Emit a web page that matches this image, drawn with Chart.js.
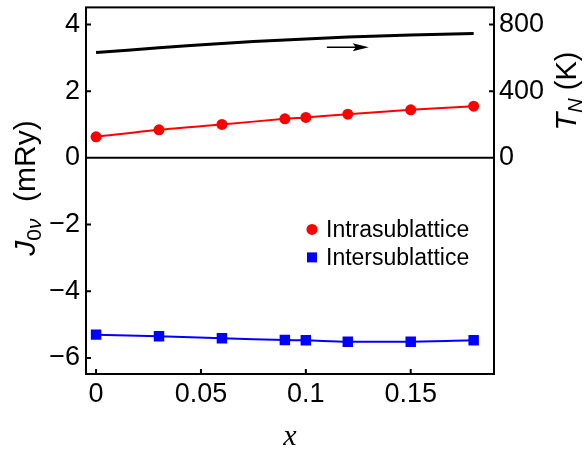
<!DOCTYPE html>
<html>
<head>
<meta charset="utf-8">
<script src="https://cdn.jsdelivr.net/npm/chart.js@4.4.1/dist/chart.umd.min.js"></script>
<style>
  html, body { margin: 0; padding: 0; background: #fff; }
  #wrap { width: 586px; height: 452px; position: relative; }
</style>
</head>
<body>
<div id="wrap"><canvas id="exchangeChart"></canvas></div>
<script>
// composition x and the two exchange sums (mRy), plus the Neel temperature (K)
const xValues = [0, 0.03, 0.06, 0.09, 0.1, 0.12, 0.15, 0.18];
const intraValues = [0.63, 0.84, 1.00, 1.17, 1.21, 1.31, 1.44, 1.55];
const interValues = [-5.30, -5.35, -5.41, -5.46, -5.47, -5.51, -5.51, -5.47];
const neelValues = [631, 660, 686, 707, 713, 724, 737, 746];

const xTicks = [0, 0.05, 0.1, 0.15];
const jTicks = [-6, -4, -2, 0, 2, 4];
const tnTicks = [0, 400, 800];
const seriesNames = ['Intrasublattice', 'Intersublattice'];

const SANS = '"Liberation Sans", Arial, Helvetica, sans-serif';
const SERIF = '"Liberation Serif", "Times New Roman", serif';

Chart.defaults.color = '#000';
Chart.defaults.font.family = SANS;

const toPoints = vals => xValues.map((x, i) => ({ x: x, y: vals[i] }));
const minus = v => (v < 0 ? '\u2212' + Math.abs(v) : String(v));

function drawRuns(ctx, runs, cx, baseY) {
  let w = 0;
  runs.forEach(r => { ctx.font = r[1]; w += ctx.measureText(r[0]).width; });
  let x = cx - w / 2;
  ctx.textAlign = 'left';
  ctx.textBaseline = 'alphabetic';
  runs.forEach(r => {
    ctx.font = r[1];
    ctx.fillText(r[0], x, baseY + r[2]);
    x += ctx.measureText(r[0]).width;
  });
}

// frame, inward ticks, zero line, arrow, legend and axis titles
const framePlugin = {
  id: 'frame',
  afterDatasetsDraw(chart) {
    const { ctx, chartArea: a, scales } = chart;
    const xs = scales.x, ys = scales.y, ts = scales.y2;
    ctx.save();
    ctx.strokeStyle = '#000';
    ctx.lineWidth = 2;
    ctx.strokeRect(a.left, a.top, a.right - a.left, a.bottom - a.top);

    ctx.beginPath();
    const y0 = ys.getPixelForValue(0);
    ctx.moveTo(a.left, y0); ctx.lineTo(a.right, y0);
    jTicks.forEach(v => {
      const y = ys.getPixelForValue(v);
      ctx.moveTo(a.left, y); ctx.lineTo(a.left + 5, y);
    });
    tnTicks.forEach(v => {
      const y = ts.getPixelForValue(v);
      ctx.moveTo(a.right, y); ctx.lineTo(a.right - 5, y);
    });
    xTicks.forEach(v => {
      const x = xs.getPixelForValue(v);
      ctx.moveTo(x, a.bottom); ctx.lineTo(x, a.bottom - 5);
    });
    ctx.stroke();

    // arrow towards the T_N axis
    const ax0 = xs.getPixelForValue(0.11), ax1 = xs.getPixelForValue(0.13);
    const ay = ts.getPixelForValue(663);
    ctx.lineWidth = 1.5;
    ctx.beginPath();
    ctx.moveTo(ax0, ay); ctx.lineTo(ax1 - 10, ay);
    ctx.stroke();
    ctx.fillStyle = '#000';
    ctx.beginPath();
    ctx.moveTo(ax1, ay);
    ctx.lineTo(ax1 - 16, ay - 4);
    ctx.lineTo(ax1 - 13, ay);
    ctx.lineTo(ax1 - 16, ay + 4);
    ctx.closePath();
    ctx.fill();

    // legend
    const lx = a.left + 226, ly = a.top + 222;
    ctx.fillStyle = '#ff0000';
    ctx.beginPath();
    ctx.arc(lx, ly, 5.5, 0, Math.PI * 2);
    ctx.fill();
    ctx.fillStyle = '#0000ff';
    ctx.fillRect(lx - 5, ly + 28 - 5, 10, 10);
    ctx.fillStyle = '#000';
    ctx.font = '23px ' + SANS;
    ctx.textBaseline = 'middle';
    ctx.textAlign = 'left';
    ctx.fillText(seriesNames[0], lx + 14, ly + 1);
    ctx.fillText(seriesNames[1], lx + 14, ly + 29);

    // axis titles
    ctx.save();
    ctx.translate(35, 188);
    ctx.rotate(-Math.PI / 2);
    drawRuns(ctx, [
      ['J', 'italic 30px ' + SANS, 0],
      ['0', '21px ' + SANS, 6],
      ['\u03bd', 'italic 21px ' + SANS, 6],
      ['  (mRy)', '30px ' + SANS, 0]
    ], 0, 0);
    ctx.restore();

    ctx.save();
    ctx.translate(576, 91);
    ctx.rotate(-Math.PI / 2);
    drawRuns(ctx, [
      ['T', 'italic 29px ' + SANS, 0],
      ['N', 'italic 20px ' + SANS, 6],
      [' (K)', '29px ' + SANS, 0]
    ], 0, 0);
    ctx.restore();

    ctx.font = 'italic 30px ' + SERIF;
    ctx.textAlign = 'center';
    ctx.textBaseline = 'alphabetic';
    ctx.fillText('x', (a.left + a.right) / 2, 445);
    ctx.restore();
  }
};

new Chart(document.getElementById('exchangeChart'), {
  type: 'line',
  data: {
    datasets: [
      {
        label: 'T_N',
        data: toPoints(neelValues),
        yAxisID: 'y2',
        borderColor: '#000',
        borderWidth: 3,
        pointRadius: 0,
        tension: 0.3
      },
      {
        label: seriesNames[0],
        data: toPoints(intraValues),
        yAxisID: 'y',
        borderColor: '#ff0000',
        backgroundColor: '#ff0000',
        borderWidth: 2,
        pointStyle: 'circle',
        pointRadius: 5.5,
        pointBorderWidth: 0,
        tension: 0.3
      },
      {
        label: seriesNames[1],
        data: toPoints(interValues),
        yAxisID: 'y',
        borderColor: '#0000ff',
        backgroundColor: '#0000ff',
        borderWidth: 2,
        pointStyle: 'rect',
        pointRadius: 7.4,
        pointBorderWidth: 0,
        tension: 0.3
      }
    ]
  },
  options: {
    responsive: true,
    maintainAspectRatio: false,
    animation: false,
    layout: { padding: { top: 7, left: 0, right: 0, bottom: 0 } },
    plugins: { legend: { display: false }, tooltip: { enabled: false } },
    scales: {
      x: {
        type: 'linear',
        min: -0.0048,
        max: 0.1897,
        grid: { display: false, drawTicks: false },
        border: { display: false },
        afterBuildTicks: s => { s.ticks = xTicks.map(v => ({ value: v })); },
        afterFit: s => { s.height = 78; s.paddingLeft = 0; s.paddingRight = 0; },
        ticks: {
          autoSkip: false,
          maxRotation: 0,
          padding: 4,
          font: { size: 27 },
          callback: v => String(v)
        }
      },
      y: {
        position: 'left',
        min: -6.48,
        max: 4.51,
        grid: { display: false, drawTicks: false },
        border: { display: false },
        afterBuildTicks: s => { s.ticks = jTicks.map(v => ({ value: v })); },
        afterFit: s => { s.width = 86; s.paddingTop = 0; s.paddingBottom = 0; },
        ticks: { autoSkip: false, padding: 6, font: { size: 27 }, callback: v => minus(v) }
      },
      y2: {
        position: 'right',
        min: -1296,
        max: 902,
        grid: { display: false, drawTicks: false },
        border: { display: false },
        afterBuildTicks: s => { s.ticks = tnTicks.map(v => ({ value: v })); },
        afterFit: s => { s.width = 92; s.paddingTop = 0; s.paddingBottom = 0; },
        ticks: { autoSkip: false, padding: 5, font: { size: 27 }, callback: v => String(v) }
      }
    }
  },
  plugins: [framePlugin]
});
</script>
</body>
</html>
